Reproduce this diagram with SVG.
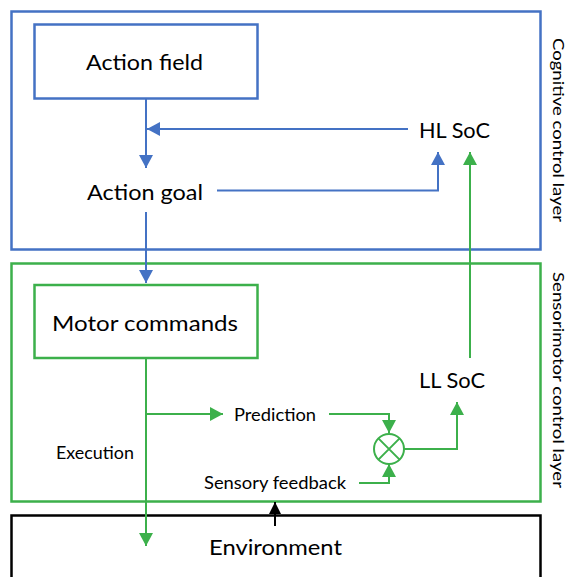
<svg xmlns="http://www.w3.org/2000/svg" width="568" height="577" viewBox="0 0 568 577">
<style>
text{font-family:"Lato","Open Sans","Liberation Sans",sans-serif;fill:#000}
.big{font-size:22px}
.sm{font-size:18px}
.side{font-size:16px}
.blue{stroke:#4472C4;fill:none}
.green{stroke:#3CB04B;fill:none}
.frame{stroke-width:2.5}
.ln{stroke-width:2}
</style>
<defs>
<marker id="ab" markerUnits="userSpaceOnUse" markerWidth="14" markerHeight="14" refX="13" refY="7" orient="auto"><path d="M0,0 L13,7 L0,14 z" fill="#4472C4"/></marker>
<marker id="ag" markerUnits="userSpaceOnUse" markerWidth="14" markerHeight="14" refX="13" refY="7" orient="auto"><path d="M0,0 L13,7 L0,14 z" fill="#3CB04B"/></marker>
<marker id="ak" markerUnits="userSpaceOnUse" markerWidth="12" markerHeight="12" refX="12" refY="6" orient="auto"><path d="M0,0 L12,6 L0,12 z" fill="#000"/></marker>
</defs>

<g id="cognitive-layer">
<rect x="11.5" y="11.5" width="529" height="238" class="blue frame"/>
<text class="side" transform="translate(553,130) rotate(90)" text-anchor="middle" textLength="184" lengthAdjust="spacingAndGlyphs">Cognitive control layer</text>
</g>
<g id="sensorimotor-layer">
<rect x="11.5" y="263.5" width="529" height="238" class="green frame"/>
<text class="side" transform="translate(553,380) rotate(90)" text-anchor="middle" textLength="216" lengthAdjust="spacingAndGlyphs">Sensorimotor control layer</text>
</g>
<g id="environment">
<rect x="11.5" y="515.5" width="529" height="70" fill="none" stroke="#000" stroke-width="2.5"/>
<text class="big" x="275.5" y="555" text-anchor="middle" textLength="133" lengthAdjust="spacingAndGlyphs">Environment</text>
</g>

<g id="action-field">
<rect x="34.5" y="24.5" width="223" height="74" class="blue frame"/>
<text class="big" x="144.5" y="70" text-anchor="middle" textLength="117" lengthAdjust="spacingAndGlyphs">Action field</text>
</g>
<g id="action-goal">
<text class="big" x="145" y="200" text-anchor="middle" textLength="116" lengthAdjust="spacingAndGlyphs">Action goal</text>
</g>
<g id="hl-soc">
<text class="big" x="454.5" y="138" text-anchor="middle" textLength="71" lengthAdjust="spacingAndGlyphs">HL SoC</text>
</g>
<g id="motor-commands">
<rect x="34.5" y="285" width="223" height="73" class="green frame"/>
<text class="big" x="145" y="331" text-anchor="middle" textLength="186" lengthAdjust="spacingAndGlyphs">Motor commands</text>
</g>
<g id="ll-soc">
<text class="big" x="452" y="388" text-anchor="middle" textLength="66" lengthAdjust="spacingAndGlyphs">LL SoC</text>
</g>
<g id="prediction">
<text class="sm" x="275" y="421" text-anchor="middle" textLength="82" lengthAdjust="spacingAndGlyphs">Prediction</text>
</g>
<g id="execution">
<text class="sm" x="95" y="459" text-anchor="middle" textLength="78" lengthAdjust="spacingAndGlyphs">Execution</text>
</g>
<g id="sensory-feedback">
<text class="sm" x="275" y="489" text-anchor="middle" textLength="142" lengthAdjust="spacingAndGlyphs">Sensory feedback</text>
</g>
<g id="comparator">
<circle cx="389" cy="449" r="15" class="green ln"/>
<path d="M378.4,438.4 L399.6,459.6 M399.6,438.4 L378.4,459.6" class="green ln"/>
</g>

<g id="connectors">
<path d="M146,98.5 V168" class="blue ln" marker-end="url(#ab)"/>
<path d="M408,129 H147" class="blue ln" marker-end="url(#ab)"/>
<path d="M217,190.5 H438 V152" class="blue ln" marker-end="url(#ab)"/>
<path d="M146,212 V283" class="blue ln" marker-end="url(#ab)"/>
<path d="M470,358 V152" class="green ln" marker-end="url(#ag)"/>
<path d="M146,358 V546" class="green ln" marker-end="url(#ag)"/>
<path d="M146,414 H223" class="green ln" marker-end="url(#ag)"/>
<path d="M329,414 H389 V433" class="green ln" marker-end="url(#ag)"/>
<path d="M359,483 H389 V464" class="green ln" marker-end="url(#ag)"/>
<path d="M404,449 H457 V402" class="green ln" marker-end="url(#ag)"/>
<path d="M275,526 V502" fill="none" stroke="#000" stroke-width="2" marker-end="url(#ak)"/>
</g>
</svg>
